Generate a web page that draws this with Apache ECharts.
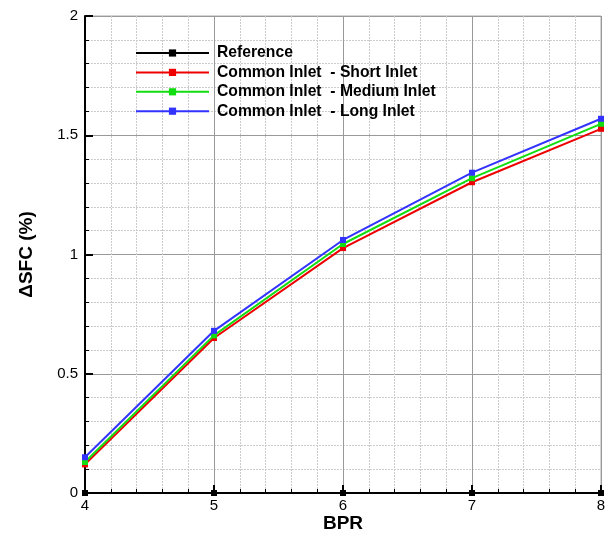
<!DOCTYPE html>
<html>
<head>
<meta charset="utf-8">
<script src="https://cdn.jsdelivr.net/npm/echarts@6/dist/echarts.min.js"></script>
<style>
html,body{margin:0;padding:0;background:#fff;}
#c{width:608px;height:534px;}
</style>
</head>
<body>
<div id="c"></div>
<script>
const bpr = [4, 5, 6, 7, 8];
const reference = [0, 0, 0, 0, 0];
const shortInlet = [0.12, 0.650, 1.027, 1.303, 1.527];
const mediumInlet = [0.13, 0.661, 1.044, 1.320, 1.548];
const longInlet = [0.15, 0.680, 1.061, 1.343, 1.569];
const seriesNames = ['Reference', 'Common Inlet  - Short Inlet', 'Common Inlet  - Medium Inlet', 'Common Inlet  - Long Inlet'];
const seriesColors = ['#000000', '#ee0000', '#11dd11', '#3333ff'];
const seriesValues = [reference, shortInlet, mediumInlet, longInlet];

const font = 'Liberation Sans, Arial, sans-serif';
const chart = echarts.init(document.getElementById('c'), null, {renderer: 'canvas'});

const series = seriesValues.map((vals, i) => ({
  name: seriesNames[i],
  type: 'line',
  data: bpr.map((x, j) => [x, vals[j]]),
  symbol: 'rect',
  symbolSize: 6,
  showSymbol: true,
  clip: false,
  lineStyle: {color: seriesColors[i], width: 2},
  itemStyle: {color: seriesColors[i]},
  z: 3 + i,
  animation: false
}));

chart.setOption({
  animation: false,
  backgroundColor: '#fff',
  grid: {left: 85, top: 16, right: 7, bottom: 41, containLabel: false, outerBoundsMode: 'none', show: true, borderColor: '#aaaaaa', borderWidth: 1},
  legend: {
    orient: 'vertical',
    left: 130,
    top: 40,
    itemWidth: 73,
    itemHeight: 9,
    itemGap: 3.4,
    selectedMode: false,
    data: seriesNames,
    textStyle: {fontFamily: font, fontSize: 15.7, fontWeight: 'bold', color: '#000', padding: [0, 0, 0, 3]}
  },
  xAxis: {
    type: 'value',
    min: 4, max: 8, interval: 1,
    name: 'BPR',
    nameLocation: 'middle',
    nameGap: 21,
    nameMoveOverlap: false,
    nameTextStyle: {fontFamily: font, fontSize: 19, fontWeight: 'bold', color: '#000'},
    axisLine: {show: true, onZero: false, lineStyle: {color: '#000', width: 2}},
    axisTick: {show: true, inside: true, length: 8, lineStyle: {color: '#000', width: 2}},
    minorTick: {show: true, splitNumber: 5, length: 4, lineStyle: {color: '#000', width: 1}},
    axisLabel: {fontFamily: font, fontSize: 15, color: '#000', margin: 5},
    splitLine: {show: true, lineStyle: {color: '#999', width: 1}},
    minorSplitLine: {show: true, lineStyle: {color: '#cccccc', width: 1, type: [2, 1]}}
  },
  yAxis: {
    type: 'value',
    min: 0, max: 2, interval: 0.5,
    name: 'ΔSFC (%)',
    nameLocation: 'middle',
    nameGap: 49,
    nameMoveOverlap: false,
    nameRotate: 90,
    nameTextStyle: {fontFamily: font, fontSize: 19, fontWeight: 'bold', color: '#000'},
    axisLine: {show: true, onZero: false, lineStyle: {color: '#000', width: 2}},
    axisTick: {show: true, inside: true, length: 8, lineStyle: {color: '#000', width: 2}},
    minorTick: {show: true, splitNumber: 5, length: 4, lineStyle: {color: '#000', width: 1}},
    axisLabel: {fontFamily: font, fontSize: 15, color: '#000', margin: 7},
    splitLine: {show: true, lineStyle: {color: '#999', width: 1}},
    minorSplitLine: {show: true, lineStyle: {color: '#cccccc', width: 1, type: [2, 1]}}
  },
  series: series
});
</script>
</body>
</html>
